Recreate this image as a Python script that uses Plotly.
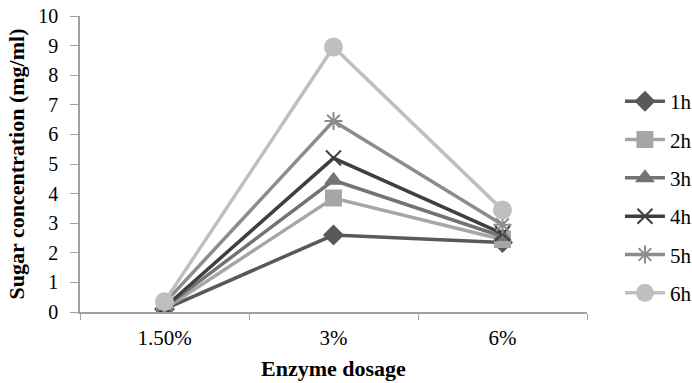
import plotly.graph_objects as go

# Enzyme dosage levels (categories on the x axis)
dosages = ["1.50%", "3%", "6%"]

# Sugar concentration (mg/ml) for each hydrolysis time
series_names = ["1h", "2h", "3h", "4h", "5h", "6h"]
sugar_1h = [0.10, 2.60, 2.35]
sugar_2h = [0.10, 3.85, 2.45]
sugar_3h = [0.15, 4.45, 2.55]
sugar_4h = [0.15, 5.20, 2.65]
sugar_5h = [0.30, 6.45, 2.95]
sugar_6h = [0.35, 8.95, 3.45]

values = [sugar_1h, sugar_2h, sugar_3h, sugar_4h, sugar_5h, sugar_6h]

line_colors = ["#595959", "#a6a6a6", "#737373", "#3f3f3f", "#8c8c8c", "#bfbfbf"]
symbols = ["diamond", "square", "triangle-up", "x-thin-open", "asterisk-open", "circle"]
sizes = [14, 15, 14, 15, 15, 17]

fig = go.Figure()
for name, y, col, sym, sz in zip(series_names, values, line_colors, symbols, sizes):
    fig.add_trace(go.Scatter(
        x=dosages, y=y, name=name, legendgroup=name,
        mode="lines+markers",
        line=dict(color=col, width=3.5),
        marker=dict(symbol=sym, size=sz, color=col,
                    line=dict(color=col, width=2)),
    ))

font_family = "Liberation Serif"

fig.update_layout(
    width=692, height=383,
    margin=dict(l=80, r=105, t=16, b=71, autoexpand=False),
    paper_bgcolor="white", plot_bgcolor="white",
    font=dict(family=font_family, size=20, color="black"),
    showlegend=True,
    legend=dict(
        x=1.065, y=0.78, xanchor="left", yanchor="top",
        font=dict(family=font_family, size=21, color="black"),
        tracegroupgap=8, itemwidth=40,
        bgcolor="rgba(0,0,0,0)",
    ),
    xaxis=dict(
        type="category", tickson="boundaries",
        ticks="outside", ticklen=6, tickcolor="#a0a0a0",
        showline=True, linecolor="#a0a0a0", linewidth=1.5,
        showgrid=False, zeroline=False, automargin=False,
        range=[-0.5, 2.5],
        tickfont=dict(family=font_family, size=21),
        ticklabelstandoff=6,
    ),
    yaxis=dict(
        range=[0, 10], dtick=1,
        ticks="outside", ticklen=8, tickcolor="#a0a0a0",
        showline=True, linecolor="#a0a0a0", linewidth=1.5,
        showgrid=False, zeroline=False, automargin=False,
        tickfont=dict(family=font_family, size=20),
        ticklabelstandoff=8,
        title=dict(text="<b>Sugar concentration (mg/ml)</b>",
                   font=dict(family=font_family, size=22), standoff=8),
    ),
)

# x-axis title placed below the tick labels
fig.add_annotation(
    text="<b>Enzyme dosage</b>", xref="paper", yref="paper",
    x=0.5, y=-0.19, xanchor="center", yanchor="middle",
    showarrow=False, font=dict(family=font_family, size=22, color="black"),
)

fig.write_html("out.html")
